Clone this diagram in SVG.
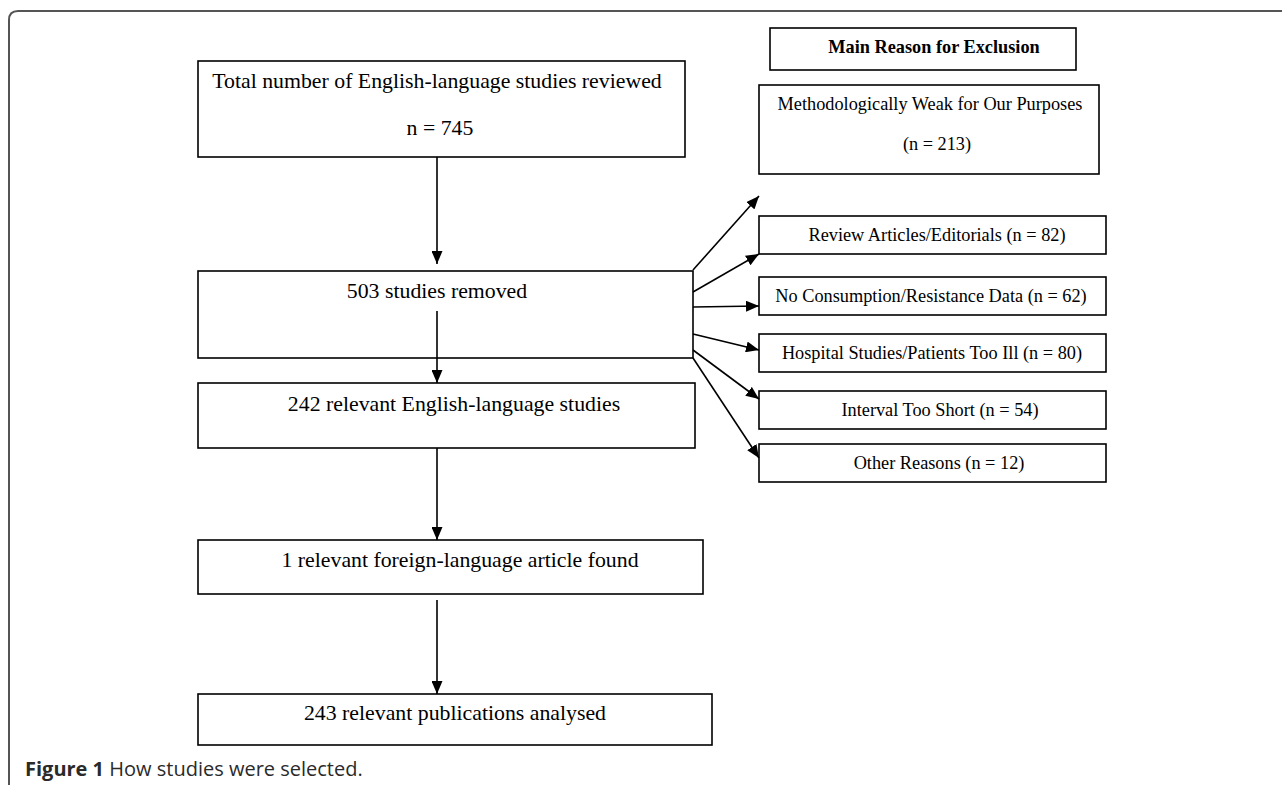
<svg xmlns="http://www.w3.org/2000/svg" width="1282" height="785" viewBox="0 0 1282 785">
<style>
.box{fill:#fff;stroke:#000;stroke-width:1.6}
.t{font-family:"Liberation Serif","Times New Roman",serif;fill:#000;text-anchor:middle}
.big{font-size:21.8px}
.sm{font-size:18.3px}
.b{font-weight:bold}
.conn line{stroke:#000;stroke-width:1.6;marker-end:url(#ah)}
.cap{font-family:"Open Sans","Noto Sans",sans-serif;font-size:20px;fill:#2a2a2a}
</style>
<defs>
<marker id="ah" markerUnits="userSpaceOnUse" markerWidth="14" markerHeight="11" viewBox="0 0 14 11" refX="13" refY="5.5" orient="auto">
<path d="M0,0 L13,5.5 L0,11 Z" fill="#000"/>
</marker>
</defs>
<rect width="1282" height="785" fill="#fff"/>
<path d="M9,785 L9,20 Q9,11 18,11 L1282,11" fill="none" stroke="#555" stroke-width="2"/>

<g id="n1">
<rect class="box" x="198" y="61" width="487" height="96"/>
<text class="t big" x="437" y="88">Total number of English-language studies reviewed</text>
<text class="t big" x="440" y="135">n = 745</text>
</g>
<g id="n2">
<rect class="box" x="198" y="271" width="495" height="87"/>
<text class="t big" x="437" y="298">503 studies removed</text>
</g>
<g id="n3">
<rect class="box" x="198" y="383" width="497" height="65"/>
<text class="t big" x="454" y="411">242 relevant English-language studies</text>
</g>
<g id="n4">
<rect class="box" x="198" y="540" width="505" height="54"/>
<text class="t big" x="460" y="567">1 relevant foreign-language article found</text>
</g>
<g id="n5">
<rect class="box" x="198" y="694" width="514" height="51"/>
<text class="t big" x="455" y="720">243 relevant publications analysed</text>
</g>

<g id="header">
<rect class="box" x="770" y="28" width="306" height="42"/>
<text class="t sm b" x="934" y="53">Main Reason for Exclusion</text>
</g>
<g id="r1">
<rect class="box" x="759" y="85" width="340" height="89"/>
<text class="t sm" x="930" y="110">Methodologically Weak for Our Purposes</text>
<text class="t sm" x="937" y="150">(n = 213)</text>
</g>
<g id="r2">
<rect class="box" x="759" y="216" width="347" height="38"/>
<text class="t sm" x="937" y="241">Review Articles/Editorials (n = 82)</text>
</g>
<g id="r3">
<rect class="box" x="759" y="277" width="347" height="38"/>
<text class="t sm" x="931" y="302">No Consumption/Resistance Data (n = 62)</text>
</g>
<g id="r4">
<rect class="box" x="759" y="334" width="347" height="38"/>
<text class="t sm" x="932" y="359">Hospital Studies/Patients Too Ill (n = 80)</text>
</g>
<g id="r5">
<rect class="box" x="759" y="391" width="347" height="38"/>
<text class="t sm" x="940" y="416">Interval Too Short (n = 54)</text>
</g>
<g id="r6">
<rect class="box" x="759" y="444" width="347" height="38"/>
<text class="t sm" x="939" y="469">Other Reasons (n = 12)</text>
</g>

<g id="connectors" class="conn">
<line x1="437" y1="157" x2="437" y2="264"/>
<line x1="437" y1="311" x2="437" y2="383"/>
<line x1="437" y1="448" x2="437" y2="540"/>
<line x1="437" y1="600" x2="437" y2="694"/>
<line x1="693" y1="270" x2="759" y2="196"/>
<line x1="693" y1="292" x2="759" y2="254"/>
<line x1="693" y1="307" x2="759" y2="306"/>
<line x1="693" y1="334" x2="759" y2="350"/>
<line x1="693" y1="350" x2="759" y2="399"/>
<line x1="693" y1="358" x2="759" y2="458"/>
</g>

<text class="cap" x="25" y="776"><tspan font-weight="bold">Figure 1</tspan> How studies were selected.</text>
</svg>
